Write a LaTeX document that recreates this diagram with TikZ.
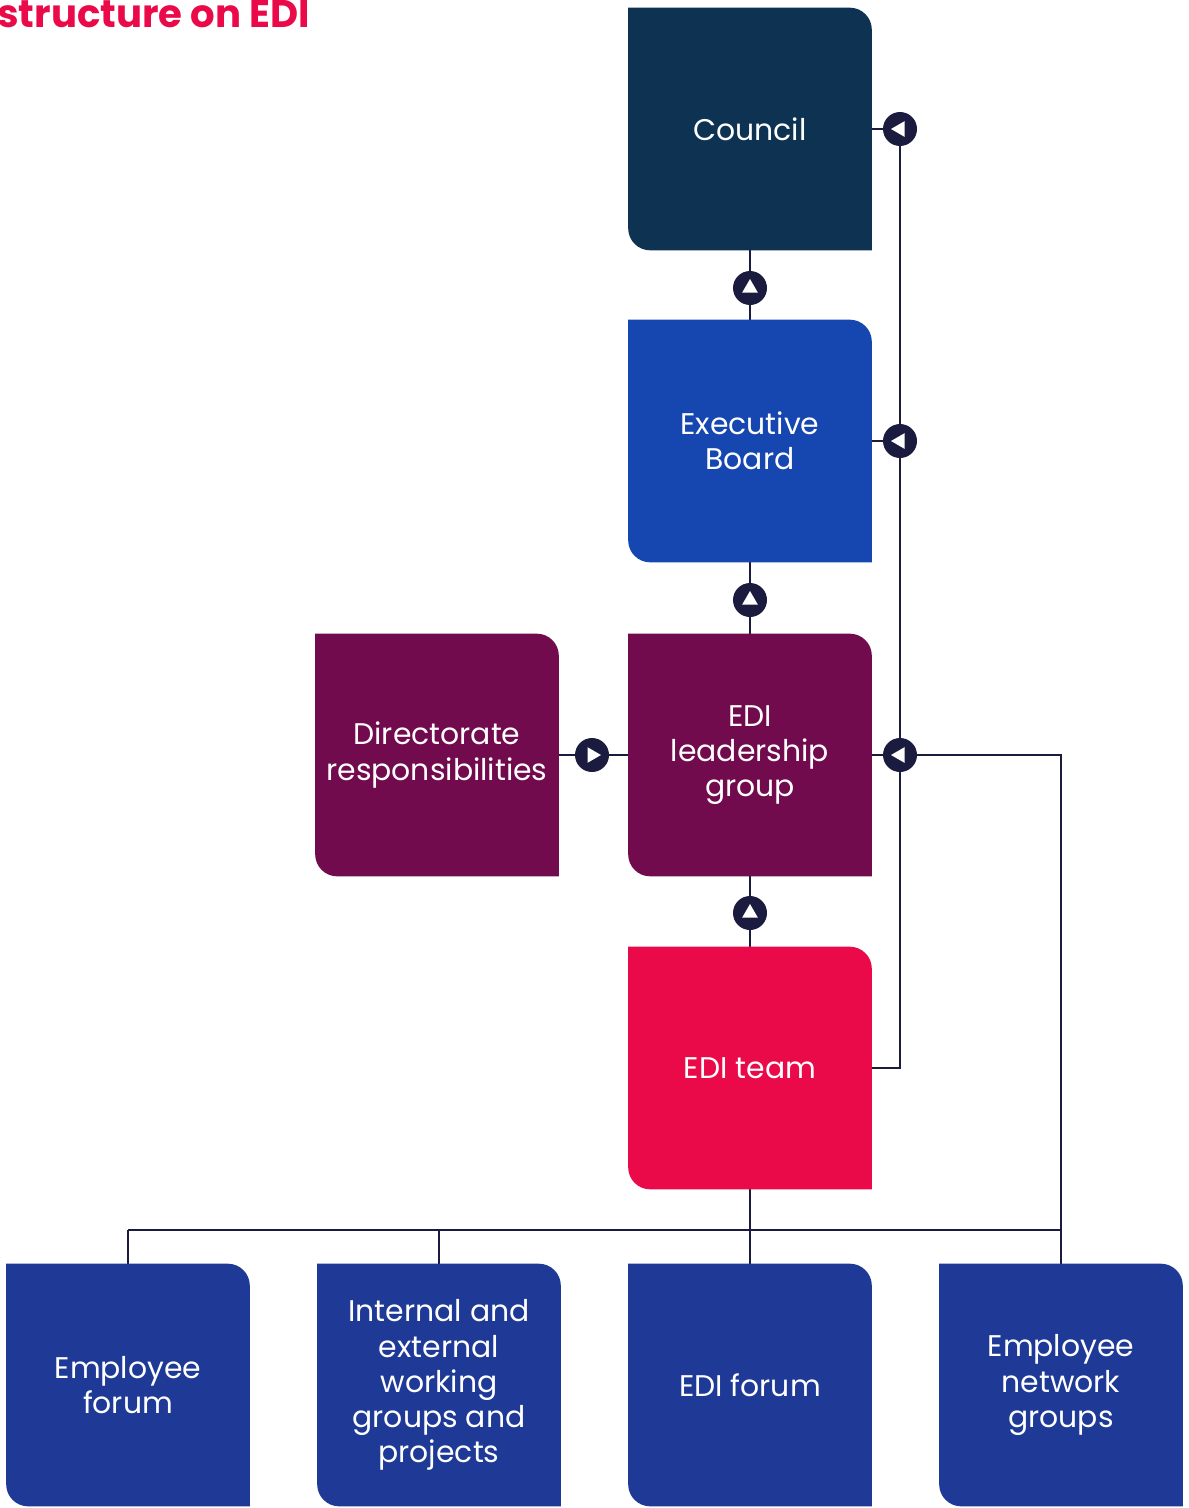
\documentclass[tikz,border=0pt]{standalone}
\usepackage{fontspec}
\setmainfont{Poppins}
\usepackage{tikz}
\usetikzlibrary{shapes.geometric, positioning, backgrounds}
\definecolor{edinavy}{RGB}{14,51,82}
\definecolor{ediblue}{RGB}{22,70,176}
\definecolor{edipurple}{RGB}{114,10,78}
\definecolor{edipink}{RGB}{234,10,74}
\definecolor{edideep}{RGB}{30,58,150}
\definecolor{edilink}{RGB}{27,27,63}

% box fill with rounded top-right and bottom-left corners
\newcommand{\cardfill}[2]{%
  \fill[#2] (#1.north west) -- ([xshift=-0.44cm]#1.north east)
    arc[start angle=90, end angle=0, radius=0.44cm] -- (#1.south east)
    -- ([xshift=0.44cm]#1.south west)
    arc[start angle=270, end angle=180, radius=0.44cm] -- cycle;}

\begin{document}
\begin{tikzpicture}[
    x=0.02cm, y=-0.02cm,
    box/.style={rectangle, minimum width=4.86cm, minimum height=4.84cm, inner sep=0pt, text=white, align=center, font=\fontsize{17}{20}\selectfont},
    link/.style={draw=edilink, line width=1.2pt},
    marker/.style={circle, fill=edilink, minimum size=0.68cm, inner sep=0pt},
    tip/.style={regular polygon, regular polygon sides=3, fill=white, inner sep=0pt, minimum size=0.36cm},
    title/.style={font=\fontsize{22}{25}\selectfont\bfseries, text=edipink, inner sep=0pt}
]
    \useasboundingbox (0,0) rectangle (1188,1508);

    % Title
    \node[title, anchor=base west] (title) at (-3,27) {structure on EDI};

    % Main column
    \node[box] (council) at (750,129) {Council};
    \node[box] (exec) at (750,441) {Executive\\Board};
    \node[box] (lead) at (750,755) {EDI\\leadership\\group};
    \node[box] (team) at (750,1068) {EDI team};
    \node[box] (direct) at (437,755) {Directorate\\responsibilities};

    % Bottom row
    \node[box] (empfor) at (128,1385) {Employee\\forum};
    \node[box] (intext) at (439,1385) {Internal and\\external\\working\\groups and\\projects};
    \node[box] (edifor) at (750,1385) {EDI forum};
    \node[box] (netw) at (1061,1385) {Employee\\network\\groups};

    % Markers
    \node[marker] (m1) at (900,129) {};
    \node[tip, shape border rotate=90] (t1) at (m1) {};
    \node[marker] (m2) at (900,441) {};
    \node[tip, shape border rotate=90] (t2) at (m2) {};
    \node[marker] (m3) at (900,755) {};
    \node[tip, shape border rotate=90] (t3) at (m3) {};
    \node[marker] (m4) at (750,288) {};
    \node[tip] (t4) at (m4) {};
    \node[marker] (m5) at (750,600) {};
    \node[tip] (t5) at (m5) {};
    \node[marker] (m6) at (750,913) {};
    \node[tip] (t6) at (m6) {};
    \node[marker] (m7) at (592,755) {};
    \node[tip, shape border rotate=-90] (t7) at (m7) {};

    \coordinate (busL) at (128,1230);
    \coordinate (busR) at (1061,1230);

    \begin{scope}[on background layer]
        % Arrows
        \draw[link] (council) -- (exec);
        \draw[link] (exec) -- (lead);
        \draw[link] (lead) -- (team);
        \draw[link] (direct) -- (lead);
        \draw[link] (council.east) -- (m1);
        \draw[link] (exec.east) -- (m2);
        \draw[link] (lead.east) -- (m3);
        \draw[link] (m1) -- (m2) -- (m3) |- (team.east);
        \draw[link] (m3) -| (netw);

        % Bus to bottom row
        \draw[link] (busL) -- (busR);
        \draw[link] (busL) -- (empfor);
        \draw[link] (intext |- busL) -- (intext);
        \draw[link] (team) -- (edifor);

        % Box fills
        \cardfill{council}{edinavy}
        \cardfill{exec}{ediblue}
        \cardfill{lead}{edipurple}
        \cardfill{team}{edipink}
        \cardfill{direct}{edipurple}
        \cardfill{empfor}{edideep}
        \cardfill{intext}{edideep}
        \cardfill{edifor}{edideep}
        \cardfill{netw}{edideep}
    \end{scope}
\end{tikzpicture}
\end{document}
